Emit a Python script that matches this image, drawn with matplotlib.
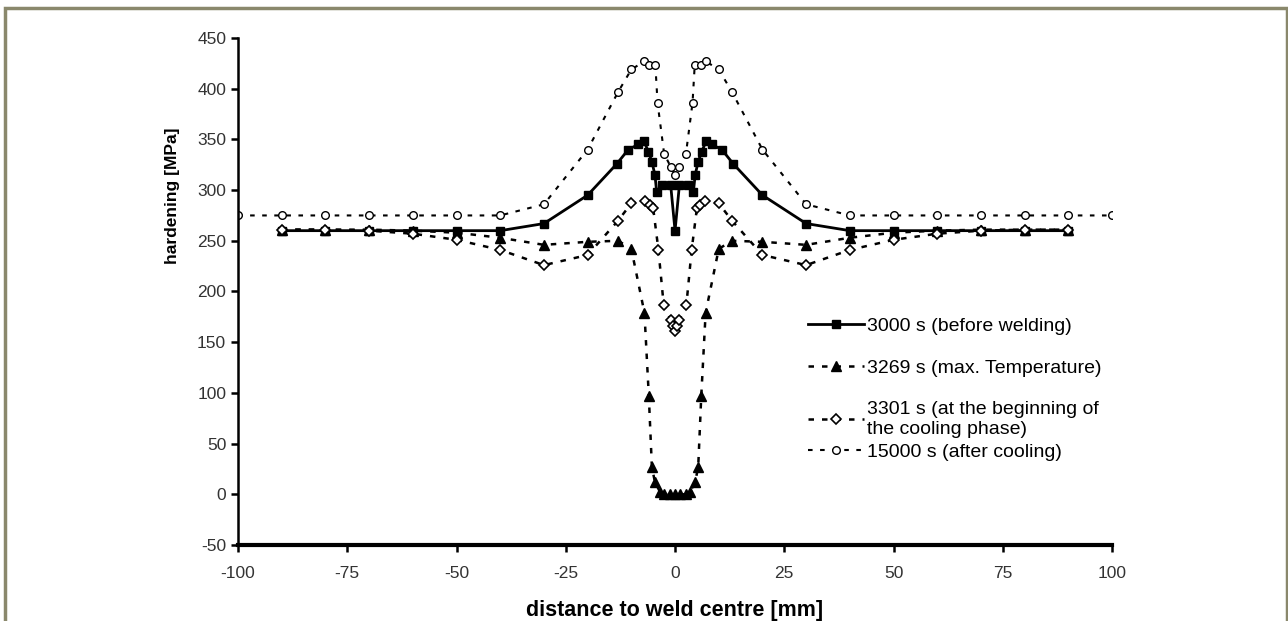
import numpy as np
import matplotlib
matplotlib.use('Agg')
import matplotlib.pyplot as plt
from matplotlib.patches import Rectangle

# 3000 s (before welding)
x_3000 = [-90, -80, -70, -60, -50, -40, -30, -20, -13.3, -10.7, -8.4, -7.1, -6.1, -5.3, -4.6, -4.2, -3, -1, 0,
          1, 3, 4.2, 4.6, 5.3, 6.1, 7.1, 8.4, 10.7, 13.3, 20, 30, 40, 50, 60, 70, 80, 90]
y_3000 = [260, 260, 260, 260, 260, 260, 267, 295, 326, 340, 345, 348, 338, 328, 315, 298, 305, 305, 260,
          305, 305, 298, 315, 328, 338, 348, 345, 340, 326, 295, 267, 260, 260, 260, 260, 260, 260]

# 3269 s (max. Temperature)
x_3269 = [-90, -80, -70, -60, -50, -40, -30, -20, -13, -10, -7, -6, -5.3, -4.6, -3.4, -2.5, -1.2, 0,
          1.2, 2.5, 3.4, 4.6, 5.3, 6, 7, 10, 13, 20, 30, 40, 50, 60, 70, 80, 90]
y_3269 = [261, 261, 261, 260, 258, 253, 246, 249, 250, 242, 179, 97, 27, 12, 2, 0, 0, 0,
          0, 0, 2, 12, 27, 97, 179, 242, 250, 249, 246, 253, 258, 260, 261, 261, 261]

# 3301 s (at the beginning of the cooling phase)
x_3301 = [-90, -80, -70, -60, -50, -40, -30, -20, -13, -10, -6.9, -5.7, -5, -3.8, -2.6, -1, -0.5, 0,
          0.5, 1, 2.6, 3.8, 5, 5.7, 6.9, 10, 13, 20, 30, 40, 50, 60, 70, 80, 90]
y_3301 = [261, 261, 260, 257, 251, 241, 226, 236, 270, 287, 289, 285, 282, 241, 187, 172, 166, 161,
          166, 172, 187, 241, 282, 285, 289, 287, 270, 236, 226, 241, 251, 257, 260, 261, 261]

# 15000 s (after cooling)
x_15000 = [-100, -90, -80, -70, -60, -50, -40, -30, -20, -13, -10, -7, -6, -4.5, -4, -2.5, -1, 0,
           1, 2.5, 4, 4.5, 6, 7, 10, 13, 20, 30, 40, 50, 60, 70, 80, 90, 100]
y_15000 = [275, 275, 275, 275, 275, 275, 275, 286, 340, 397, 419, 427, 423, 423, 386, 336, 323, 315,
           323, 336, 386, 423, 423, 427, 419, 397, 340, 286, 275, 275, 275, 275, 275, 275, 275]

labels = ['3000 s (before welding)',
          '3269 s (max. Temperature)',
          '3301 s (at the beginning of\nthe cooling phase)',
          '15000 s (after cooling)']

plt.rcParams.update({'font.family': ['Liberation Sans', 'DejaVu Sans'],
                     'axes.unicode_minus': False,
                     'font.size': 12,
                     'xtick.labelsize': 12.5,
                     'ytick.labelsize': 12.5})

fig = plt.figure(figsize=(12.88, 6.21), dpi=100)
ax = fig.add_axes([0.1848, 0.1224, 0.6786, 0.8164])

h1, = ax.plot(x_3000, y_3000, '-', color='k', lw=2.0, marker='s', ms=5.5, mfc='k', mec='k')
h2, = ax.plot(x_3269, y_3269, color='k', lw=1.8, dashes=(2.2, 3.2), marker='^', ms=6.5, mfc='k', mec='k')
h3, = ax.plot(x_3301, y_3301, color='k', lw=1.8, dashes=(2.2, 3.2), marker='D', ms=5, mfc='white',
              mec='k', mew=1.2)
h4, = ax.plot(x_15000, y_15000, color='k', lw=1.5, dashes=(2.2, 3.6), marker='o', ms=5.5, mfc='white',
              mec='k', mew=1.0)

ax.set_xlim(-100, 100)
ax.set_ylim(-50, 450)
ax.set_xticks(np.arange(-100, 101, 25))
ax.set_yticks(np.arange(-50, 451, 50))
for s in ['top', 'right']:
    ax.spines[s].set_visible(False)
ax.spines['left'].set_linewidth(1.8)
ax.spines['bottom'].set_linewidth(3)
ax.tick_params(direction='out', length=5, width=1.8, colors='k', labelcolor='#333333')
ax.tick_params(axis='x', pad=10)

ax.set_xlabel('distance to weld centre [mm]', fontsize=15.5, fontweight='bold', labelpad=14)
ax.set_ylabel('hardening [MPa]', fontsize=12.5, fontweight='bold', labelpad=12)
ax.yaxis.set_label_coords(-0.066, 0.688)

leg_kw = dict(frameon=False, borderpad=0, handlelength=2.9, handletextpad=0.15, fontsize=14)
leg1 = ax.legend([h1, h2, h3], labels[:3], loc='upper left', bbox_to_anchor=(0.641, 0.468),
                 labelspacing=1.25, **leg_kw)
ax.add_artist(leg1)
ax.legend([h4], labels[3:], loc='upper left', bbox_to_anchor=(0.641, 0.220), **leg_kw)

# olive page frame
fig.patches.append(Rectangle((5 / 1288, -0.2), 1282 / 1288, 1.2 - 8 / 621, transform=fig.transFigure,
                             fill=False, edgecolor='#8a886c', lw=2.5))

fig.savefig('out.png', dpi=100, facecolor='white')
